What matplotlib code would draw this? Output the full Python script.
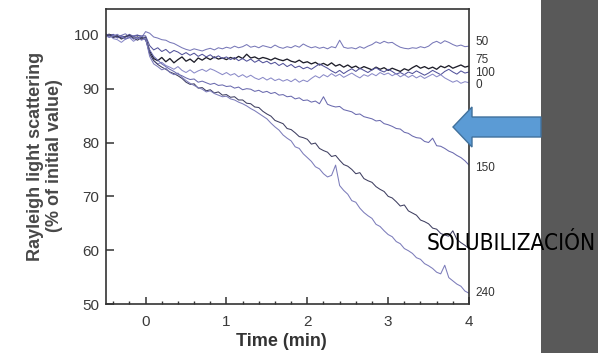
import numpy as np
import matplotlib
matplotlib.use("Agg")
import matplotlib.pyplot as plt
from matplotlib.patches import Polygon, Rectangle
from matplotlib.ticker import MultipleLocator
import matplotlib.transforms as mtransforms

plt.rcParams['font.family'] = ['Liberation Sans', 'DejaVu Sans']

# time axis of the recording (min), one sample every 0.05 min
time_min = np.round(np.arange(-0.5, 4.001, 0.05), 2)

# Rayleigh scattering (% of initial) for each detergent concentration
c50 = [100.0, 99.8, 100.1, 99.7, 99.9, 100.2, 99.6, 99.8, 100.0, 99.5,
       100.6, 100.3, 99.6, 99.4, 99.1, 99.0, 98.6, 98.4, 98.0, 97.6,
       97.3, 97.1, 97.4, 97.2, 97.0, 97.3, 97.5, 97.2, 97.6, 97.4,
       97.7, 97.5, 97.9, 97.6, 97.8, 98.2, 97.7, 97.9, 97.6, 98.0,
       97.8, 97.6, 98.1, 97.7, 97.5, 97.8, 97.6, 98.0, 97.7, 98.3,
       97.9, 97.6, 97.8, 97.5, 97.7, 97.4, 97.8, 97.6, 99.0, 97.7,
       97.5, 97.6, 97.4, 97.8, 97.5, 97.9, 98.2, 98.7, 98.4, 98.8,
       98.5, 98.6, 98.1, 97.7, 97.5, 97.4, 97.6, 97.5, 97.8, 97.6,
       97.9, 98.5, 98.8, 98.4, 98.9, 98.6, 98.2, 97.9, 98.1, 97.8,
       97.9]
c75 = [99.9, 100.1, 99.6, 99.8, 99.4, 99.7, 99.9, 99.3, 99.6, 99.2,
       99.5, 97.0, 95.6, 95.2, 95.8, 95.0, 95.6, 94.8, 95.4, 95.9,
       95.1, 95.5, 94.9, 95.7, 95.3, 95.8, 95.4, 95.9, 95.5, 95.7,
       95.4, 95.8, 95.5, 96.0, 95.6, 96.4, 95.7, 95.9, 95.5, 95.8,
       95.6, 95.3, 95.7, 95.4, 95.2, 95.5, 95.1, 94.9, 95.3, 94.8,
       95.0, 94.6, 94.9, 94.4, 94.7, 94.3, 94.8, 94.2, 94.5, 94.0,
       94.4, 93.9, 94.2, 93.7, 94.1, 93.8, 93.5, 94.0, 93.6, 93.9,
       93.4, 93.8, 93.5, 93.2, 93.7, 93.4, 93.9, 94.3, 93.8, 94.1,
       93.7, 94.0, 93.6, 94.2, 93.9, 94.3, 93.8, 94.1, 94.4, 94.0,
       94.2]
c100 = [100.2, 99.9, 100.0, 99.5, 99.8, 99.6, 100.1, 99.7, 99.9, 99.8,
        99.8, 98.0, 97.2, 97.6, 96.9, 97.3, 96.6, 97.1, 96.8, 96.3,
        96.7, 96.2, 96.6, 96.0, 96.4, 95.9, 96.3, 95.7, 96.1, 95.6,
        95.9, 95.4, 95.8, 95.2, 95.6, 95.1, 95.5, 94.9, 95.3, 94.8,
        95.1, 94.6, 94.9, 94.3, 94.7, 94.1, 94.5, 93.9, 94.2, 93.7,
        94.0, 93.6, 94.1, 94.6, 94.2, 93.8, 93.3, 92.9, 93.4, 92.8,
        93.3, 93.7, 93.2, 93.8, 93.4, 93.0, 93.5, 93.9, 93.4, 93.1,
        93.6, 93.2, 92.7, 93.0, 92.6, 93.1, 92.8, 93.3, 92.9, 92.5,
        92.9, 93.4, 93.0, 92.6, 93.2, 93.6, 93.1, 92.7, 93.3, 92.9,
        93.1]
c0 = [99.8, 100.0, 99.3, 99.1, 98.6, 99.2, 99.5, 98.8, 99.3, 99.6,
      99.2, 96.5, 95.2, 94.6, 94.9, 94.3, 94.0, 93.6, 94.1, 93.4,
      93.0, 93.5, 92.9, 93.3, 93.6, 93.2, 93.7, 93.4, 93.0, 92.6,
      93.0, 92.5, 92.8, 92.2, 92.6, 92.1, 92.5, 92.0, 91.7, 92.1,
      91.6, 92.0, 91.5, 91.8, 91.4, 91.7, 91.3, 91.8, 91.2, 91.6,
      91.3, 91.9, 92.4, 92.0, 92.6, 92.2, 92.8, 92.3, 92.7, 92.1,
      92.5, 92.9, 92.4, 92.0, 92.6, 92.3, 92.8, 92.4, 93.0, 92.6,
      92.9, 92.4, 92.8, 92.2, 92.6, 92.1, 92.5, 92.0, 92.4, 91.9,
      92.3, 92.7, 92.2, 92.6, 92.0, 91.6, 91.2, 91.5, 91.0, 91.3,
      91.1]
c150 = [100.0, 99.6, 99.9, 99.4, 99.7, 99.2, 99.5, 99.8, 99.3, 99.6,
        99.0, 97.2, 96.0, 95.3, 94.6, 94.1, 93.6, 93.2, 92.7, 92.4,
        92.0, 91.7, 91.8, 91.2, 91.4, 91.1, 90.8, 91.0, 90.6, 90.7,
        90.4, 90.5, 90.1, 90.3, 89.8, 90.0, 89.9, 89.5, 89.7, 89.3,
        89.5, 89.1, 89.3, 88.8, 88.9, 88.5, 88.6, 88.1, 88.3, 87.8,
        87.9, 87.5, 87.7, 87.2, 88.5, 87.1, 86.8, 86.6, 86.7, 86.1,
        85.9, 85.7, 85.2, 85.3, 84.8, 84.6, 84.4, 84.0, 84.1, 83.5,
        83.3, 83.0, 82.6, 82.5, 81.9, 81.7, 81.2, 80.9, 80.8, 80.2,
        80.0, 80.8, 79.4, 79.3, 78.9, 78.4, 78.1, 77.6, 77.2, 76.6,
        75.8]
c200 = [99.7, 100.0, 99.5, 99.8, 99.2, 99.6, 99.9, 99.4, 99.0, 99.5,
        99.3, 96.5, 95.2, 94.5, 94.0, 93.6, 93.1, 92.8, 92.4, 91.9,
        91.2, 90.8, 90.9, 90.1, 90.2, 89.6, 89.8, 89.2, 89.4, 88.8,
        88.9, 88.4, 88.5, 87.9, 87.9, 87.3, 87.2, 86.6, 86.5, 85.8,
        85.3, 84.9, 84.1, 83.8, 83.5, 82.6, 82.4, 81.8, 81.1, 80.9,
        80.6, 79.7, 79.9, 78.9, 78.5, 78.2, 77.4, 77.6, 76.7, 75.9,
        75.6, 75.0, 74.2, 74.4, 73.3, 72.9, 72.6, 71.8, 71.3, 70.9,
        70.0, 69.7, 69.0, 68.2, 68.4, 67.3, 66.9, 66.5, 65.6, 65.3,
        64.9, 64.1, 63.9, 63.1, 62.8, 62.6, 63.6, 62.0, 61.4, 60.9,
        60.3]
c240 = [99.9, 99.5, 99.8, 100.1, 99.6, 99.3, 99.7, 99.2, 99.5, 99.0,
        99.4, 96.0, 94.6, 94.1, 93.5, 93.8, 93.0, 92.6, 92.9, 92.1,
        91.5, 91.0, 90.6, 90.2, 89.9, 89.4, 89.6, 89.1, 88.8, 88.5,
        88.6, 88.1, 87.9, 87.5, 87.2, 86.8, 86.3, 85.9, 85.4, 84.9,
        84.4, 83.6, 82.9, 82.3, 81.4, 80.8, 80.3, 79.2, 78.9, 77.9,
        77.2, 76.5, 75.5, 75.1, 74.2, 73.6, 73.9, 75.8, 72.0, 71.1,
        70.4, 69.2, 68.9, 67.8, 67.0, 66.4, 65.9, 64.8, 64.4, 63.6,
        62.9, 62.5, 61.6, 61.2, 60.3, 59.9, 59.4, 58.6, 58.3, 57.5,
        57.1, 56.6, 55.9, 55.6, 57.2, 54.9, 54.3, 53.7, 53.3, 52.4,
        52.0]

series = [c50, c75, c100, c0, c150, c200, c240]
line_colors = ['#7878b8', '#1e1e2a', '#52529a', '#8a8ac8', '#6a6aae', '#3e3e60', '#7c7cba']
line_widths = [0.75, 0.95, 0.75, 0.75, 0.75, 0.75, 0.75]

# labels written next to the right axis, and the level where each sits
end_labels = ['50', '75', '100', '0', '150', '240']
end_label_y = [98.6, 95.3, 93.0, 90.7, 75.2, 52.1]

W, H = 598, 353
fig = plt.figure(figsize=(W / 100, H / 100), dpi=100)
ax = fig.add_axes([106 / W, 1 - 304 / H, 363 / W, 295 / H])

for y, col, lw in zip(series, line_colors, line_widths):
    ax.plot(time_min, y, color=col, lw=lw)

ax.set_xlim(-0.49, 4.0)
ax.set_ylim(50, 104.8)
ax.set_xticks([0, 1, 2, 3, 4])
ax.xaxis.set_minor_locator(MultipleLocator(0.2))
ax.set_yticks([50, 60, 70, 80, 90, 100])
ax.tick_params(axis='both', which='major', direction='in', labelsize=11,
               labelcolor='#3a3a3a', color='#333333', width=1.1)
ax.tick_params(axis='y', which='major', length=6, pad=5)
ax.tick_params(axis='x', which='major', length=5, pad=8)
ax.tick_params(axis='x', which='minor', direction='in', length=2.5, width=1, color='#333333')
for s in ax.spines.values():
    s.set_color('#333333')
    s.set_linewidth(1.2)

trans = mtransforms.blended_transform_factory(ax.transAxes, ax.transData)
for lab, yv in zip(end_labels, end_label_y):
    ax.text(1.018, yv, lab, transform=trans, fontsize=8.5, color='#333333',
            ha='left', va='center')

fig.text(45 / W, 1 - 156 / H, 'Rayleigh light scattering\n(% of initial value)',
         rotation=90, ha='center', va='center', fontsize=13, fontweight='bold',
         color='#484848', linespacing=1.2)
fig.text(281 / W, 1 - 342 / H, 'Time (min)', ha='center', va='center',
         fontsize=13, fontweight='bold', color='#333333')

# grey side panel of the slide
fig.patches.append(Rectangle((541 / W, 0), 57 / W, 1, transform=fig.transFigure,
                             facecolor='#595959', edgecolor='none', zorder=0))

# blue arrow pointing at the curves
arrow_px = [(453, 127), (472, 107), (472, 117), (541, 117), (541, 137), (472, 137), (472, 147)]
fig.patches.append(Polygon([(x / W, 1 - y / H) for x, y in arrow_px], closed=True,
                           transform=fig.transFigure, facecolor='#5b9bd5',
                           edgecolor='#41719c', lw=1, zorder=5))

# slide caption, squeezed into the 427..597 px strip like the original
cap = fig.text(427 / W, 1 - 250 / H, 'SOLUBILIZACIÓN', ha='left', va='baseline',
               fontsize=24, color='black', zorder=6, family='DejaVu Sans',
               fontstretch='condensed')
r = fig.canvas.get_renderer()
wpx = cap.get_window_extent(renderer=r).width
cap.set_fontsize(24 * 170 / wpx)

fig.savefig('out.png', dpi=100)
